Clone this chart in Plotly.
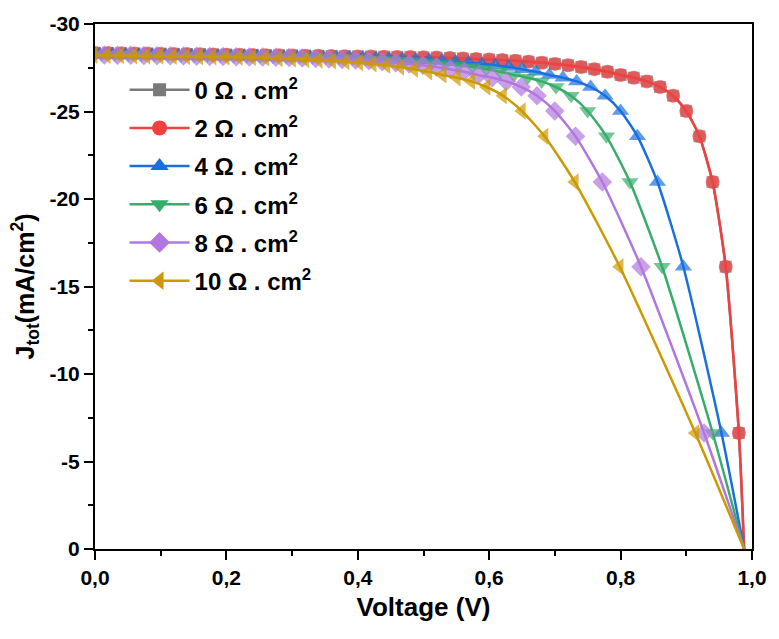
import plotly.graph_objects as go

# ---- data ----
# 0 and 2 Ohm.cm2 curves (identical in the reference)
V_BASE = [0.00, 0.02, 0.04, 0.06, 0.08, 0.10, 0.12, 0.14, 0.16, 0.18,
          0.20, 0.22, 0.24, 0.26, 0.28, 0.30, 0.32, 0.34, 0.36, 0.38,
          0.40, 0.42, 0.44, 0.46, 0.48, 0.50, 0.52, 0.54, 0.56, 0.58,
          0.60, 0.62, 0.64, 0.66, 0.68, 0.70, 0.72, 0.74, 0.76, 0.78,
          0.80, 0.82, 0.84, 0.86, 0.88, 0.90, 0.92, 0.94, 0.96, 0.98, 0.988]
J_BASE = [-28.35, -28.34, -28.33, -28.32, -28.31, -28.30, -28.29, -28.28, -28.27, -28.26,
          -28.25, -28.24, -28.23, -28.22, -28.21, -28.20, -28.19, -28.18, -28.17, -28.16,
          -28.15, -28.14, -28.13, -28.12, -28.11, -28.10, -28.08, -28.06, -28.03, -28.00,
          -27.97, -27.94, -27.90, -27.85, -27.79, -27.72, -27.64, -27.54, -27.42, -27.27,
          -27.09, -26.93, -26.72, -26.40, -25.90, -25.03, -23.58, -20.97, -16.13, -6.63, 0.0]

X_4 = [-0.0132, 0.0068, 0.0269, 0.0469, 0.0670, 0.0870, 0.1070, 0.1271, 0.1471, 0.1672,
       0.1872, 0.2072, 0.2273, 0.2473, 0.2674, 0.2874, 0.3074, 0.3275, 0.3475, 0.3676,
       0.3876, 0.4077, 0.4278, 0.4479, 0.4680, 0.4881, 0.5082, 0.5284, 0.5486, 0.5688,
       0.5891, 0.6094, 0.6298, 0.6503, 0.6709, 0.6916, 0.7123, 0.7331, 0.7544, 0.7764,
       0.7999, 0.8257, 0.8561, 0.8955, 0.9535, 0.988]
J_4 = J_BASE[5:]

X_6 = [-0.0096, 0.0104, 0.0305, 0.0506, 0.0706, 0.0907, 0.1107, 0.1308, 0.1509, 0.1709,
       0.1910, 0.2110, 0.2311, 0.2512, 0.2712, 0.2913, 0.3113, 0.3314, 0.3515, 0.3716,
       0.3918, 0.4120, 0.4322, 0.4524, 0.4726, 0.4929, 0.5133, 0.5337, 0.5542, 0.5748,
       0.5955, 0.6164, 0.6375, 0.6584, 0.6797, 0.7016, 0.7246, 0.7498, 0.7785, 0.8142,
       0.8632, 0.9402, 0.988]
J_6 = J_BASE[8:]

X_8 = [-0.0059, 0.0142, 0.0342, 0.0543, 0.0744, 0.0945, 0.1146, 0.1346, 0.1547, 0.1748,
       0.1949, 0.2150, 0.2350, 0.2551, 0.2752, 0.2954, 0.3155, 0.3358, 0.3560, 0.3762,
       0.3965, 0.4168, 0.4372, 0.4577, 0.4782, 0.4989, 0.5197, 0.5406, 0.5618, 0.5833,
       0.6046, 0.6262, 0.6488, 0.6728, 0.6998, 0.7314, 0.7722, 0.8310, 0.9270, 0.988]
J_8 = J_BASE[11:]

X_10 = [-0.0021, 0.0180, 0.0381, 0.0582, 0.0783, 0.0984, 0.1185, 0.1386, 0.1587, 0.1788,
        0.1989, 0.2190, 0.2392, 0.2594, 0.2797, 0.3000, 0.3203, 0.3406, 0.3610, 0.3815,
        0.4021, 0.4228, 0.4436, 0.4646, 0.4858, 0.5073, 0.5291, 0.5507, 0.5728, 0.5960,
        0.6210, 0.6497, 0.6842, 0.7303, 0.7987, 0.9137, 0.988]
J_10 = J_BASE[14:]

SERIES_NAMES = ["0 Ω . cm<sup>2</sup>", "2 Ω . cm<sup>2</sup>", "4 Ω . cm<sup>2</sup>",
                "6 Ω . cm<sup>2</sup>", "8 Ω . cm<sup>2</sup>", "10 Ω . cm<sup>2</sup>"]

X_TICKS = [0.0, 0.2, 0.4, 0.6, 0.8, 1.0]
X_TICKTEXT = ["0,0", "0,2", "0,4", "0,6", "0,8", "1,0"]
X_MINOR = [0.1, 0.3, 0.5, 0.7, 0.9]
Y_TICKS = [0, -5, -10, -15, -20, -25, -30]
Y_TICKTEXT = ["0", "-5", "-10", "-15", "-20", "-25", "-30"]
Y_MINOR = [-2.5, -7.5, -12.5, -17.5, -22.5, -27.5]

# ---- styling ----
COLORS = ["#7a7a7a", "#F14040", "#1A6FDF", "#37AD6B", "#B177DE", "#CC9900"]
SYMBOLS = ["square", "circle", "triangle-up", "triangle-down", "diamond", "triangle-left"]
SIZES = [12, 14, 15, 15, 15, 15]
FONT = "Arial, Liberation Sans, sans-serif"

xs = [V_BASE, V_BASE, X_4, X_6, X_8, X_10]
ys = [J_BASE, J_BASE, J_4, J_6, J_8, J_10]

fig = go.Figure()
for i in range(6):
    n = len(xs[i])
    # the open-circuit end point (J = 0) carries no symbol in the reference
    sizes = [SIZES[i]] * (n - 1) + [0]
    fig.add_trace(go.Scatter(
        x=xs[i], y=ys[i], name=SERIES_NAMES[i], mode="lines+markers",
        line=dict(color=COLORS[i], width=2.5, shape="spline", smoothing=0.6),
        marker=dict(color=COLORS[i], symbol=SYMBOLS[i], size=sizes,
                    line=dict(width=0)),
        legendgroup=f"g{i}", showlegend=False,
    ))
    # legend entry with a solid, constant-size symbol
    fig.add_trace(go.Scatter(
        x=[None], y=[None], name=SERIES_NAMES[i], mode="lines+markers",
        line=dict(color=COLORS[i], width=2.5),
        marker=dict(color=COLORS[i], symbol=SYMBOLS[i], size=SIZES[i] + 1,
                    line=dict(width=0)),
        legendgroup=f"g{i}", showlegend=True,
    ))

axis_common = dict(
    showline=True, linecolor="black", linewidth=2, mirror=True,
    ticks="outside", ticklen=9, tickwidth=2, tickcolor="black",
    showgrid=False, zeroline=False,
    tickfont=dict(family=FONT, size=21, color="black", weight="bold"),
)

fig.update_xaxes(
    range=[0, 1.0], tickmode="array", tickvals=X_TICKS, ticktext=X_TICKTEXT,
    minor=dict(tickmode="array", tickvals=X_MINOR, ticks="outside", ticklen=5,
               tickwidth=2, tickcolor="black"),
    title=dict(text="Voltage (V)", font=dict(family=FONT, size=26, color="black", weight="bold"),
               standoff=10),
    **axis_common,
)
fig.update_yaxes(
    range=[0, -30], tickmode="array", tickvals=Y_TICKS, ticktext=Y_TICKTEXT,
    minor=dict(tickmode="array", tickvals=Y_MINOR, ticks="outside", ticklen=5,
               tickwidth=2, tickcolor="black"),
    title=dict(text="J<sub>tot</sub>(mA/cm<sup>2</sup>)",
               font=dict(family=FONT, size=25, color="black", weight="bold"), standoff=8),
    **axis_common,
)

fig.update_layout(
    width=779, height=639,
    margin=dict(l=95, r=17, t=12, b=90),
    paper_bgcolor="white", plot_bgcolor="white",
    showlegend=True,
    legend=dict(
        x=0.045, y=0.917, xanchor="left", yanchor="top",
        bgcolor="rgba(0,0,0,0)", borderwidth=0,
        font=dict(family=FONT, size=24, color="black", weight="bold"),
        traceorder="grouped", tracegroupgap=4, itemwidth=60,
    ),
)

fig.write_html("out.html")
